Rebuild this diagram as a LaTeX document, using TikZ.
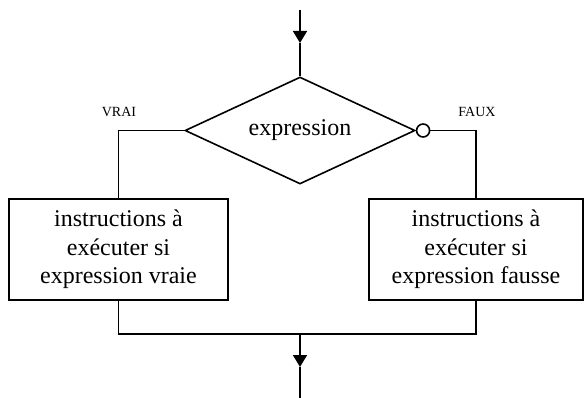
\documentclass[tikz,border=0pt]{standalone}
\usepackage{fontspec}
\setmainfont{Liberation Serif}
\usetikzlibrary{shapes.geometric,arrows.meta}
\tikzset{
        every path/.style={line width=1.6pt},
        decision/.style={diamond, aspect=2.2, draw=black, line width=1.6pt, inner sep=0pt, minimum width=230pt, minimum height=107pt, font=\fontsize{24}{28}\selectfont},
        action/.style={rectangle, draw=black, line width=1.6pt, inner sep=0pt, minimum height=101pt, align=center, font=\fontsize{24}{28.5}\selectfont},
        negation/.style={circle, draw=black, fill=white, line width=1.6pt, inner sep=0pt, minimum size=13pt},
        branchlabel/.style={anchor=base, inner sep=0pt, font=\fontsize{14}{16}\selectfont},
        flowarrow/.style={-{Triangle[length=12pt, width=14pt]}}
          }
\begin{document}
\begin{tikzpicture}[x=1pt, y=-1pt]
            \useasboundingbox (0,0) rectangle (584,398);
            % test
            \node[decision] (test) at (300,130.5) {expression};
            \node[negation, anchor=west] (neg) at (test.east) {};
            \node[branchlabel] (lvrai) at (119,117) {VRAI};
            \node[branchlabel] (lfaux) at (477,117) {FAUX};
            % branches
            \node[action, minimum width=219pt] (sivrai) at (118.5,249.5) {instructions à\\ exécuter si\\ expression vraie};
            \node[action, minimum width=214pt] (sifaux) at (476,249.5) {instructions à\\ exécuter si\\ expression fausse};
            % entree / sortie
            \coordinate (entree) at (300,10);
            \coordinate (fleche1) at (300,43);
            \coordinate (jonction) at (300,334);
            \coordinate (fleche2) at (300,367);
            \coordinate (sortie) at (300,398);
            \draw[flowarrow] (entree) -- (fleche1);
            \draw (fleche1) -- (test.north);
            \draw (test.west) -| (sivrai.north);
            \draw (neg.east) -| (sifaux.north);
            \draw (sivrai.south) |- (jonction) -| (sifaux.south);
            \draw[flowarrow] (jonction) -- (fleche2);
            \draw (fleche2) -- (sortie);
          \end{tikzpicture}
\end{document}
